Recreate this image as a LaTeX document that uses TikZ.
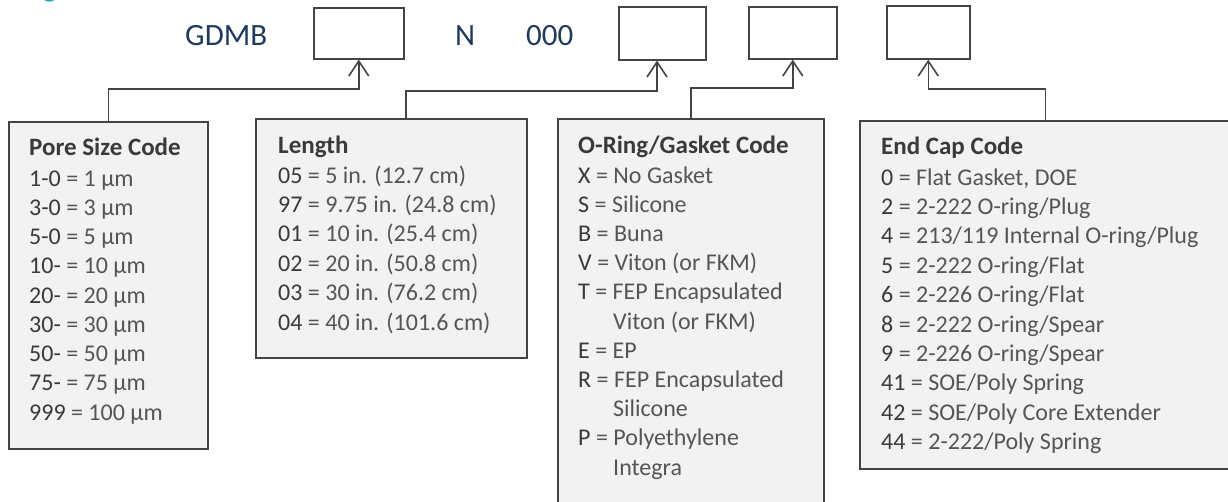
\documentclass[tikz,border=0pt]{standalone}
\usepackage{fontspec}
\setmainfont{Carlito}
\usetikzlibrary{arrows.meta,calc}
\definecolor{boxc}{HTML}{444444}
\definecolor{fillc}{HTML}{F2F2F2}
\definecolor{codec}{HTML}{3A3A3A}
\definecolor{txtc}{HTML}{555555}
\definecolor{navy}{HTML}{203A5C}
\definecolor{teal}{HTML}{1BA8B5}
\newcommand\rowfont{\fontsize{24}{29}\selectfont}
\newcommand\titfont{\fontsize{25}{30}\selectfont\bfseries}
\newcommand\topfont{\fontsize{31}{37}\selectfont}
\newcommand\cd[1]{\textcolor{codec}{#1}}
\tikzset{
  topbox/.style={draw=boxc, line width=1.6pt, fill=white, anchor=north west, inner sep=0pt},
  infobox/.style={draw=boxc, line width=1.6pt, fill=fillc, anchor=north west, inner sep=0pt},
  conn/.style={draw=boxc, line width=1.6pt, -{Straight Barb[length=15pt,width=20pt,line width=1.6pt]}},
  row/.style={anchor=base west, inner sep=0pt, font=\rowfont, text=txtc},
  tit/.style={anchor=base west, inner sep=0pt, font=\titfont, text=codec},
  toplabel/.style={anchor=base west, inner sep=0pt, font=\topfont, text=navy},
}
\begin{document}
\begin{tikzpicture}[x=1pt,y=-1pt]
\useasboundingbox (0,0) rectangle (1228,501);
\begin{scope}
\clip (0,0) rectangle (1228,501);
% cut heading fragment
\node[anchor=base west, inner sep=0pt, font=\fontsize{32}{38}\selectfont, text=teal] (head) at (42,-4) {g};
% top labels and boxes
\node[toplabel] (gdmb) at (185,45) {GDMB};
\node[toplabel] (n) at (455,45) {N};
\node[toplabel] (zeros) at (526,45) {000};
\node[topbox, minimum width=90pt, minimum height=51pt] (b1) at (313,7) {};
\node[topbox, minimum width=87pt, minimum height=53pt] (b2) at (618,6) {};
\node[topbox, minimum width=88pt, minimum height=52pt] (b3) at (748,6) {};
\node[topbox, minimum width=83pt, minimum height=53pt] (b4) at (886,5) {};
% info boxes
\node[infobox, minimum width=199pt, minimum height=327pt] (pore) at (8,121) {};
\node[infobox, minimum width=271pt, minimum height=239pt] (len) at (255,118) {};
\node[infobox, minimum width=266pt, minimum height=400pt] (oring) at (557,118) {};
\node[infobox, minimum width=371pt, minimum height=348pt] (cap) at (859,120) {};
% connectors
\coordinate (lenc) at ($(len.north west)+(151,0)$);
\coordinate (b2c) at ($(b2.south west)+(39,0)$);
\draw[conn] (pore.north) -- ++(0,-32) -| (b1.south);
\draw[conn] (lenc) -- ++(0,-27) -| (b2c);
\draw[conn] (oring.north) -- ++(0,-30) -| (b3.south);
\draw[conn] (cap.north) -- ++(0,-31) -| (b4.south);
% pore size
\node[tit] (pt) at (29,155) {Pore Size Code};
\node[row] (p1) at (29,186) {\cd{1-0} = 1 µm};
\node[row] (p2) at (29,215.25) {\cd{3-0} = 3 µm};
\node[row] (p3) at (29,244.5) {\cd{5-0} = 5 µm};
\node[row] (p4) at (29,273.75) {\cd{10-} = 10 µm};
\node[row] (p5) at (29,303) {\cd{20-} = 20 µm};
\node[row] (p6) at (29,332.25) {\cd{30-} = 30 µm};
\node[row] (p7) at (29,361.5) {\cd{50-} = 50 µm};
\node[row] (p8) at (29,390.75) {\cd{75-} = 75 µm};
\node[row] (p9) at (29,420) {\cd{999} = 100 µm};
% length
\node[tit] (lt) at (278,153) {Length};
\node[row] (l1) at (278,183) {\cd{05} = 5 in. (12.7 cm)};
\node[row] (l2) at (278,212.4) {\cd{97} = 9.75 in. (24.8 cm)};
\node[row] (l3) at (278,241.8) {\cd{01} = 10 in. (25.4 cm)};
\node[row] (l4) at (278,271.2) {\cd{02} = 20 in. (50.8 cm)};
\node[row] (l5) at (278,300.6) {\cd{03} = 30 in. (76.2 cm)};
\node[row] (l6) at (278,330) {\cd{04} = 40 in. (101.6 cm)};
% o-ring
\node[tit] (ot) at (578,153) {O-Ring/Gasket Code};
\node[row] (o1) at (578,183) {\cd{X} = No Gasket};
\node[row] (o2) at (578,212.2) {\cd{S} = Silicone};
\node[row] (o3) at (578,241.4) {\cd{B} = Buna};
\node[row] (o4) at (578,270.6) {\cd{V} = Viton (or FKM)};
\node[row] (o5) at (578,299.8) {\cd{T} = FEP Encapsulated};
\node[row] (o5b) at (613,329) {Viton (or FKM)};
\node[row] (o6) at (578,358.2) {\cd{E} = EP};
\node[row] (o7) at (578,387.4) {\cd{R} = FEP Encapsulated};
\node[row] (o7b) at (613,416.6) {Silicone};
\node[row] (o8) at (578,445.8) {\cd{P} = Polyethylene};
\node[row] (o8b) at (613,475) {Integra};
% end cap
\node[tit] (ct) at (881,154) {End Cap Code};
\node[row] (c1) at (881,185) {\cd{0} = Flat Gasket, DOE};
\node[row] (c2) at (881,214.4) {\cd{2} = 2-222 O-ring/Plug};
\node[row] (c3) at (881,243.8) {\cd{4} = 213/119 Internal O-ring/Plug};
\node[row] (c4) at (881,273.2) {\cd{5} = 2-222 O-ring/Flat};
\node[row] (c5) at (881,302.6) {\cd{6} = 2-226 O-ring/Flat};
\node[row] (c6) at (881,332) {\cd{8} = 2-222 O-ring/Spear};
\node[row] (c7) at (881,361.4) {\cd{9} = 2-226 O-ring/Spear};
\node[row] (c8) at (881,390.8) {\cd{41} = SOE/Poly Spring};
\node[row] (c9) at (881,420.2) {\cd{42} = SOE/Poly Core Extender};
\node[row] (c10) at (881,449.6) {\cd{44} = 2-222/Poly Spring};
\end{scope}
\end{tikzpicture}
\end{document}
